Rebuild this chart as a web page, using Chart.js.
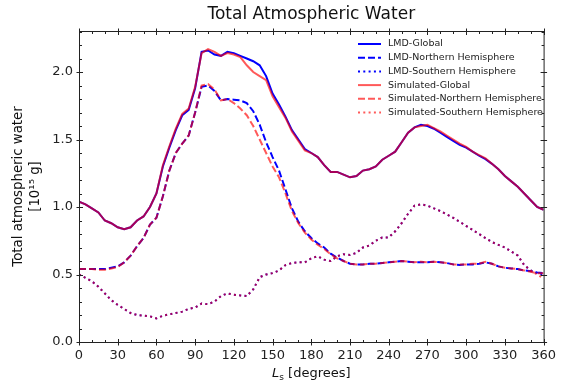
<!DOCTYPE html>
<html>
<head>
<meta charset="utf-8">
<script src="https://cdn.jsdelivr.net/npm/chart.js@4.4.1/dist/chart.umd.min.js"></script>
<style>
  html, body { margin: 0; padding: 0; background: #fff; }
</style>
</head>
<body>
<canvas id="waterChart" width="562" height="383"></canvas>
<script>
// Solar longitude, every 5 degrees
const ls = [];
for (let d = 0; d <= 360; d += 5) ls.push(d);

const xTicks = [0, 30, 60, 90, 120, 150, 180, 210, 240, 270, 300, 330, 360];
const yTicks = [0, 0.5, 1.0, 1.5, 2.0];

// total water, 1e15 g
const lmdGlobal = [1.04, 1.02, 0.99, 0.96, 0.90, 0.88, 0.85, 0.835, 0.85, 0.90, 0.93, 1.00, 1.10,
  1.30, 1.44, 1.57, 1.68, 1.72, 1.88, 2.15, 2.16, 2.13, 2.12, 2.15, 2.14, 2.12, 2.10, 2.08, 2.05,
  1.97, 1.84, 1.76, 1.67, 1.57, 1.50, 1.43, 1.40, 1.37, 1.31, 1.26, 1.26, 1.24, 1.22, 1.23, 1.27,
  1.28, 1.30, 1.35, 1.38, 1.41, 1.48, 1.55, 1.59, 1.61, 1.60, 1.58, 1.55, 1.52, 1.49, 1.46, 1.44,
  1.41, 1.38, 1.355, 1.32, 1.28, 1.23, 1.19, 1.15, 1.10, 1.05, 1.00, 0.98];
const lmdNorth = [0.54, 0.54, 0.54, 0.54, 0.54, 0.55, 0.56, 0.59, 0.64, 0.71, 0.77, 0.87, 0.92,
  1.08, 1.27, 1.40, 1.47, 1.53, 1.70, 1.89, 1.90, 1.86, 1.79, 1.80, 1.795, 1.79, 1.77, 1.71, 1.61,
  1.48, 1.37, 1.27, 1.13, 0.99, 0.89, 0.82, 0.77, 0.73, 0.70, 0.655, 0.625, 0.60, 0.58, 0.575, 0.575,
  0.58, 0.58, 0.585, 0.59, 0.595, 0.60, 0.595, 0.59, 0.59, 0.59, 0.595, 0.59, 0.585, 0.575, 0.57, 0.575,
  0.575, 0.58, 0.59, 0.58, 0.56, 0.55, 0.545, 0.54, 0.53, 0.525, 0.515, 0.51];
const lmdSouth = [0.50, 0.475, 0.45, 0.41, 0.36, 0.31, 0.275, 0.245, 0.215, 0.20, 0.195, 0.19, 0.175,
  0.195, 0.205, 0.215, 0.225, 0.245, 0.255, 0.285, 0.28, 0.30, 0.34, 0.36, 0.35, 0.345, 0.34, 0.39, 0.48,
  0.50, 0.51, 0.53, 0.57, 0.585, 0.59, 0.59, 0.62, 0.635, 0.61, 0.60, 0.635, 0.65, 0.645, 0.66, 0.70,
  0.715, 0.75, 0.775, 0.775, 0.82, 0.88, 0.95, 1.01, 1.02, 1.01, 0.99, 0.97, 0.945, 0.92, 0.89, 0.86,
  0.83, 0.80, 0.77, 0.74, 0.72, 0.70, 0.67, 0.64, 0.57, 0.53, 0.51, 0.50];

const simGlobal = [1.04, 1.02, 0.99, 0.96, 0.90, 0.88, 0.85, 0.835, 0.85, 0.90, 0.93, 1.00, 1.10,
  1.31, 1.45, 1.58, 1.69, 1.73, 1.89, 2.14, 2.17, 2.15, 2.12, 2.14, 2.13, 2.11, 2.05, 2.00, 1.97,
  1.94, 1.82, 1.74, 1.66, 1.56, 1.49, 1.42, 1.40, 1.37, 1.31, 1.26, 1.26, 1.24, 1.22, 1.23, 1.27,
  1.28, 1.30, 1.35, 1.38, 1.41, 1.48, 1.55, 1.59, 1.60, 1.61, 1.585, 1.56, 1.53, 1.50, 1.47, 1.445,
  1.41, 1.385, 1.36, 1.32, 1.28, 1.23, 1.19, 1.15, 1.10, 1.05, 1.00, 0.98];
const simNorth = [0.54, 0.54, 0.54, 0.535, 0.535, 0.545, 0.555, 0.59, 0.64, 0.71, 0.77, 0.87, 0.92,
  1.08, 1.27, 1.40, 1.47, 1.53, 1.70, 1.90, 1.91, 1.87, 1.79, 1.80, 1.77, 1.73, 1.68, 1.60, 1.50,
  1.40, 1.30, 1.22, 1.10, 0.97, 0.88, 0.81, 0.76, 0.72, 0.69, 0.65, 0.62, 0.60, 0.58, 0.575, 0.575,
  0.58, 0.58, 0.585, 0.59, 0.595, 0.60, 0.595, 0.59, 0.595, 0.59, 0.595, 0.59, 0.585, 0.575, 0.575, 0.575,
  0.58, 0.58, 0.595, 0.58, 0.56, 0.55, 0.545, 0.54, 0.53, 0.52, 0.51, 0.51];
const simSouth = [0.50, 0.475, 0.45, 0.41, 0.36, 0.31, 0.275, 0.245, 0.215, 0.20, 0.195, 0.19, 0.175,
  0.195, 0.205, 0.215, 0.225, 0.245, 0.255, 0.285, 0.28, 0.30, 0.34, 0.36, 0.35, 0.345, 0.34, 0.39, 0.48,
  0.50, 0.51, 0.53, 0.57, 0.585, 0.59, 0.59, 0.62, 0.635, 0.61, 0.60, 0.635, 0.65, 0.645, 0.66, 0.70,
  0.715, 0.75, 0.775, 0.775, 0.82, 0.88, 0.95, 1.01, 1.02, 1.01, 0.99, 0.97, 0.945, 0.92, 0.89, 0.86,
  0.83, 0.80, 0.77, 0.74, 0.72, 0.70, 0.67, 0.64, 0.57, 0.53, 0.50, 0.47];

const FONT = "'DejaVu Sans', sans-serif";
const BLUE = "#0000ff";
const RED = "rgba(255, 0, 0, 0.65)";
const DASHED = [7, 3];
const DOTTED = [2, 3.3];

function series(label, values, color, dash, order) {
  return {
    label,
    data: ls.map((x, i) => ({ x, y: values[i] })),
    borderColor: color,
    borderWidth: 2,
    borderDash: dash,
    pointRadius: 0,
    tension: 0,
    fill: false,
    order
  };
}

// frame, inward ticks on all four sides, titles
const frameAndText = {
  id: "frameAndText",
  afterDraw(chart) {
    const { ctx, chartArea: a, scales: { x, y } } = chart;
    ctx.save();
    ctx.strokeStyle = "#222";
    ctx.lineWidth = 1;
    ctx.strokeRect(a.left + 0.5, a.top + 0.5, a.right - a.left, a.bottom - a.top);

    ctx.beginPath();
    for (let v = 0; v <= 360; v += 10) {
      const px = Math.round(x.getPixelForValue(v)) + 0.5;
      const major = v % 30 === 0;
      const inn = major ? 3.5 : 2.5, out = major ? 3 : 0;
      ctx.moveTo(px, a.bottom + 0.5 + out); ctx.lineTo(px, a.bottom + 0.5 - inn);
      ctx.moveTo(px, a.top + 0.5 - out); ctx.lineTo(px, a.top + 0.5 + inn);
    }
    for (let i = 0; i <= 23; i++) {
      const py = Math.round(y.getPixelForValue(i / 10)) + 0.5;
      const major = i % 5 === 0;
      const inn = major ? 3.5 : 2.5, out = major ? 3 : 0;
      ctx.moveTo(a.left + 0.5 - out, py); ctx.lineTo(a.left + 0.5 + inn, py);
      ctx.moveTo(a.right + 0.5 + out, py); ctx.lineTo(a.right + 0.5 - inn, py);
    }
    ctx.stroke();

    const cx = (a.left + a.right) / 2;
    ctx.fillStyle = "#111";
    ctx.textAlign = "center";
    ctx.textBaseline = "middle";
    ctx.font = "17px " + FONT;
    ctx.fillText("Total Atmospheric Water", cx, 15);

    // x axis title: italic L with subscript s
    ctx.font = "italic 13px " + FONT;
    const wL = ctx.measureText("L").width;
    ctx.font = "9px " + FONT;
    const wS = ctx.measureText("s").width;
    ctx.font = "13px " + FONT;
    const rest = " [degrees]";
    const wR = ctx.measureText(rest).width;
    let tx = cx - (wL + wS + wR) / 2;
    ctx.textAlign = "left";
    ctx.font = "italic 13px " + FONT;
    ctx.fillText("L", tx, 374);
    ctx.font = "9px " + FONT;
    ctx.fillText("s", tx + wL, 378);
    ctx.font = "13px " + FONT;
    ctx.fillText(rest, tx + wL + wS, 374);

    // y axis title, two lines
    ctx.translate(0, (a.top + a.bottom) / 2);
    ctx.rotate(-Math.PI / 2);
    ctx.textAlign = "center";
    ctx.font = "13.3px " + FONT;
    ctx.fillText("Total atmospheric water", 0, 19);
    ctx.fillText("[10\u00b9\u2075 g]", 0, 36);
    ctx.restore();
  }
};

// legend in the upper right of the plot
const cornerLegend = {
  id: "cornerLegend",
  afterDraw(chart) {
    const { ctx } = chart;
    ctx.save();
    ctx.font = "9.5px " + FONT;
    ctx.textAlign = "left";
    ctx.textBaseline = "middle";
    chart.data.datasets.forEach((ds, i) => {
      const yy = 44 + i * 13.7;
      ctx.strokeStyle = ds.borderColor;
      ctx.lineWidth = 2;
      ctx.setLineDash(ds.borderDash);
      ctx.beginPath();
      ctx.moveTo(358, yy);
      ctx.lineTo(381, yy);
      ctx.stroke();
      ctx.setLineDash([]);
      ctx.fillStyle = "#222";
      ctx.fillText(ds.label, 388, yy);
    });
    ctx.restore();
  }
};

new Chart(document.getElementById("waterChart"), {
  type: "line",
  data: {
    datasets: [
      series("LMD-Global", lmdGlobal, BLUE, [], 2),
      series("LMD-Northern Hemisphere", lmdNorth, BLUE, DASHED, 2),
      series("LMD-Southern Hemisphere", lmdSouth, BLUE, DOTTED, 2),
      series("Simulated-Global", simGlobal, RED, [], 1),
      series("Simulated-Northern Hemisphere", simNorth, RED, DASHED, 1),
      series("Simulated-Southern Hemisphere", simSouth, RED, DOTTED, 1)
    ]
  },
  options: {
    responsive: false,
    animation: false,
    layout: { padding: { top: 31, right: 13, left: 0, bottom: 0 } },
    plugins: {
      legend: { display: false },
      title: { display: false },
      tooltip: { enabled: false }
    },
    scales: {
      x: {
        type: "linear",
        min: 0,
        max: 360,
        grid: { display: false, drawTicks: false, tickLength: 0 },
        border: { display: false },
        afterBuildTicks: s => { s.ticks = xTicks.map(v => ({ value: v })); },
        afterFit: s => { s.height = 41; },
        ticks: {
          autoSkip: false,
          maxRotation: 0,
          padding: 6,
          color: "#222",
          font: { family: FONT, size: 13 },
          callback: v => String(v)
        }
      },
      y: {
        type: "linear",
        min: 0,
        max: 2.304,
        grid: { display: false, drawTicks: false, tickLength: 0 },
        border: { display: false },
        afterBuildTicks: s => { s.ticks = yTicks.map(v => ({ value: v })); },
        afterFit: s => { s.width = 79; },
        ticks: {
          padding: 6,
          color: "#222",
          font: { family: FONT, size: 13 },
          callback: v => Number(v).toFixed(1)
        }
      }
    }
  },
  plugins: [frameAndText, cornerLegend]
});
</script>
</body>
</html>
